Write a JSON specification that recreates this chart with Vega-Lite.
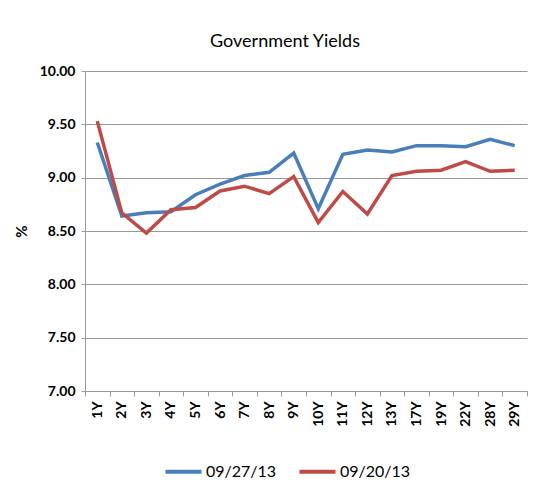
{
  "$schema": "https://vega.github.io/schema/vega-lite/v6.json",
  "autosize": {"type": "none"},
  "padding": {"left": 85, "top": 71, "right": 30, "bottom": 103},
  "width": 442,
  "height": 320,
  "background": "white",
  "title": {"text": "Government Yields", "font": "Lato", "fontSize": 18, "fontWeight": "normal", "color": "black", "anchor": "middle", "dx": -21, "offset": 13},
  "config": {
    "view": {"stroke": null},
    "font": "Lato"
  },
  "data": {"values": [
    {"tenor": "1Y", "series": "09/27/13", "yield": 9.33},
    {"tenor": "2Y", "series": "09/27/13", "yield": 8.64},
    {"tenor": "3Y", "series": "09/27/13", "yield": 8.67},
    {"tenor": "4Y", "series": "09/27/13", "yield": 8.68},
    {"tenor": "5Y", "series": "09/27/13", "yield": 8.84},
    {"tenor": "6Y", "series": "09/27/13", "yield": 8.94},
    {"tenor": "7Y", "series": "09/27/13", "yield": 9.02},
    {"tenor": "8Y", "series": "09/27/13", "yield": 9.05},
    {"tenor": "9Y", "series": "09/27/13", "yield": 9.23},
    {"tenor": "10Y", "series": "09/27/13", "yield": 8.71},
    {"tenor": "11Y", "series": "09/27/13", "yield": 9.22},
    {"tenor": "12Y", "series": "09/27/13", "yield": 9.26},
    {"tenor": "13Y", "series": "09/27/13", "yield": 9.24},
    {"tenor": "17Y", "series": "09/27/13", "yield": 9.30},
    {"tenor": "19Y", "series": "09/27/13", "yield": 9.30},
    {"tenor": "22Y", "series": "09/27/13", "yield": 9.29},
    {"tenor": "28Y", "series": "09/27/13", "yield": 9.36},
    {"tenor": "29Y", "series": "09/27/13", "yield": 9.30},
    {"tenor": "1Y", "series": "09/20/13", "yield": 9.53},
    {"tenor": "2Y", "series": "09/20/13", "yield": 8.67},
    {"tenor": "3Y", "series": "09/20/13", "yield": 8.48},
    {"tenor": "4Y", "series": "09/20/13", "yield": 8.70},
    {"tenor": "5Y", "series": "09/20/13", "yield": 8.72},
    {"tenor": "6Y", "series": "09/20/13", "yield": 8.875},
    {"tenor": "7Y", "series": "09/20/13", "yield": 8.92},
    {"tenor": "8Y", "series": "09/20/13", "yield": 8.85},
    {"tenor": "9Y", "series": "09/20/13", "yield": 9.01},
    {"tenor": "10Y", "series": "09/20/13", "yield": 8.58},
    {"tenor": "11Y", "series": "09/20/13", "yield": 8.87},
    {"tenor": "12Y", "series": "09/20/13", "yield": 8.66},
    {"tenor": "13Y", "series": "09/20/13", "yield": 9.02},
    {"tenor": "17Y", "series": "09/20/13", "yield": 9.06},
    {"tenor": "19Y", "series": "09/20/13", "yield": 9.07},
    {"tenor": "22Y", "series": "09/20/13", "yield": 9.15},
    {"tenor": "28Y", "series": "09/20/13", "yield": 9.06},
    {"tenor": "29Y", "series": "09/20/13", "yield": 9.07}
  ]},
  "mark": {"type": "line", "strokeWidth": 3.5},
  "encoding": {
    "x": {
      "field": "tenor", "type": "ordinal", "sort": null,
      "scale": {"type": "band", "paddingInner": 0, "paddingOuter": 0},
      "axis": {
        "title": null, "labelAngle": -90, "labelFontWeight": "bold", "labelFontSize": 14,
        "labelColor": "black", "labelPadding": 5, "labelAlign": "right", "labelBaseline": "middle",
        "tickBand": "extent", "tickSize": 5, "tickColor": "#999999", "domainColor": "#999999",
        "grid": false
      }
    },
    "y": {
      "field": "yield", "type": "quantitative",
      "scale": {"domain": [7, 10], "zero": false, "nice": false},
      "axis": {
        "title": "%", "titleFontSize": 15, "titleFontWeight": "bold", "titleColor": "black", "titlePadding": 10,
        "values": [7, 7.5, 8, 8.5, 9, 9.5, 10], "format": ".2f",
        "labelFontWeight": "bold", "labelFontSize": 14, "labelColor": "black", "labelPadding": 6,
        "tickSize": 4, "tickColor": "#999999", "domainColor": "#999999",
        "grid": true, "gridColor": "#999999", "gridWidth": 1.2
      }
    },
    "color": {
      "field": "series", "type": "nominal",
      "sort": ["09/27/13", "09/20/13"],
      "scale": {"domain": ["09/27/13", "09/20/13"], "range": ["#4a7ebb", "#be4b48"]},
      "legend": {
        "title": null, "orient": "none", "legendX": 78, "legendY": 380, "direction": "horizontal",
        "symbolType": "stroke", "symbolStrokeWidth": 4, "symbolSize": 1300,
        "labelFontSize": 16, "labelColor": "black", "labelOffset": 2, "columnPadding": 14
      }
    }
  }
}
